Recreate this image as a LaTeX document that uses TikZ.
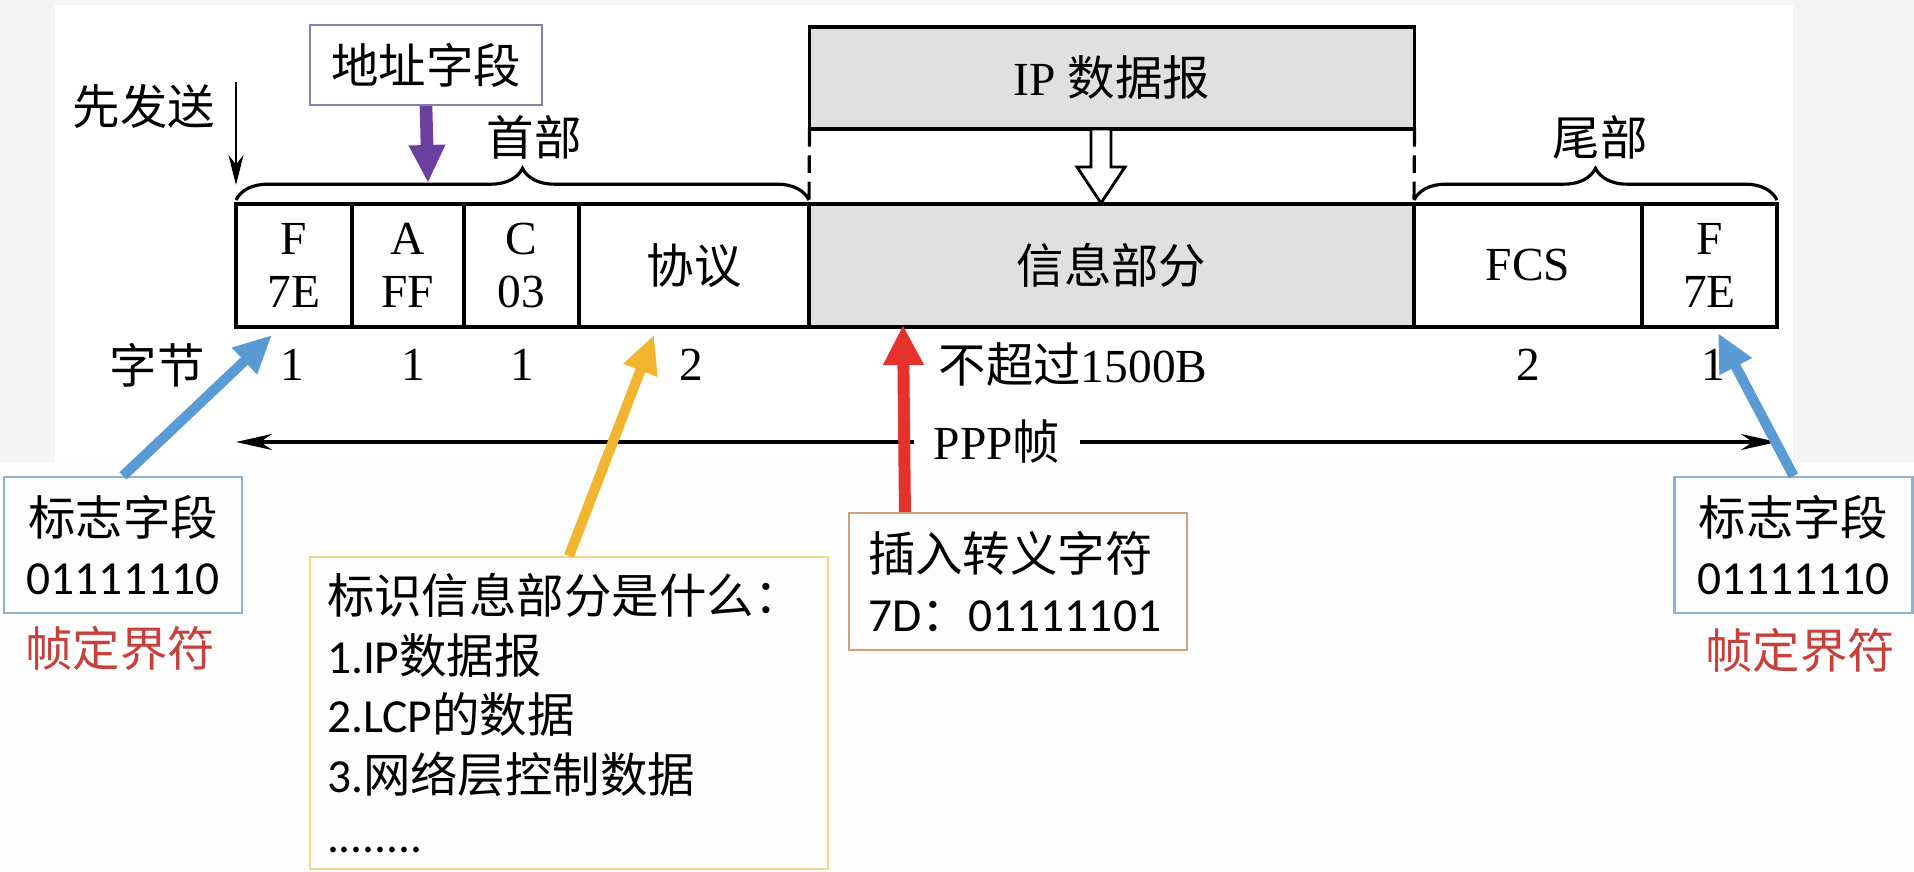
\documentclass[tikz,border=0pt]{standalone}
\usepackage{fontspec}
\setmainfont{Liberation Serif}
\newfontfamily\cjk{Noto Sans CJK SC}
\newfontfamily\calib{Carlito}
\newcommand{\zh}[1]{{\cjk #1}}
\usepackage{tikz}
\usetikzlibrary{arrows.meta, positioning, calc, decorations.pathreplacing}
\definecolor{pagegray}{HTML}{F4F4F4}
\definecolor{lowwhite}{HTML}{FDFDFD}
\definecolor{infogray}{HTML}{E0E0E0}
\definecolor{addrpurple}{HTML}{8A7BB0}
\definecolor{arrowpurple}{HTML}{6A3FA0}
\definecolor{flagblue}{HTML}{5B9BD5}
\definecolor{boxblue}{HTML}{8DB3D3}
\definecolor{noteyellow}{HTML}{F0D98C}
\definecolor{arrowyellow}{HTML}{F2B530}
\definecolor{escbrown}{HTML}{D2A27A}
\definecolor{arrowred}{HTML}{E5322D}
\definecolor{textred}{HTML}{C8403C}

\begin{document}
\begin{tikzpicture}[
    book/.style={inner sep=0pt, font=\fontsize{13.5}{15.2}\selectfont},
    cell/.style={book, draw, line width=0.9pt, minimum height=1.23cm, outer sep=0pt, align=center},
    note/.style={draw, line width=0.6pt, inner sep=0pt, font=\calib\fontsize{13.5}{17}\selectfont},
    fat/.style={line width=2.9pt, -{Triangle[length=3.8mm, width=3.4mm]}},
    brace/.style={line width=0.9pt, decorate, decoration={brace, amplitude=9pt}},
  ]
    % Background
    \fill[pagegray] (0,0) rectangle (19.14,8.72);
    \fill[white] (0.55,4.10) rectangle (17.93,8.67);
    \fill[lowwhite] (0,0) rectangle (19.14,4.10);
    \useasboundingbox (0,0) rectangle (19.14,8.72);

    % Frame cells
    \node[cell, minimum width=1.16cm] (fa) at (2.94,6.065) {F\\7E};
    \node[cell, minimum width=1.12cm] (fb) at (4.08,6.065) {A\\FF};
    \node[cell, minimum width=1.15cm] (fc) at (5.215,6.065) {C\\03};
    \node[cell, minimum width=2.30cm] (fd) at (6.94,6.065) {\zh{协议}};
    \node[cell, minimum width=6.05cm, fill=infogray] (fe) at (11.115,6.065) {\zh{信息部分}};
    \node[cell, minimum width=2.28cm] (ff) at (15.28,6.065) {FCS};
    \node[cell, minimum width=1.35cm] (fg) at (17.095,6.065) {F\\7E};

    % IP datagram above the information field
    \node[cell, fill=infogray, line width=1.1pt, minimum width=6.05cm, minimum height=1.02cm] (ip) at (11.12,7.94) {IP \zh{数据报}};
    \draw[line width=0.9pt, dash pattern=on 5pt off 2.5pt] (ip.south west) -- (fe.north west);
    \draw[line width=0.9pt, dash pattern=on 5pt off 2.5pt] (ip.south east) -- (fe.north east);
    \coordinate (hol) at (11.01,7.43);
    \draw[line width=0.8pt, fill=white] (hol) ++(-0.10,0) -- ++(0,-0.38) -- ++(-0.14,0)
        -- ++(0.24,-0.36) -- ++(0.24,0.36) -- ++(-0.14,0) -- ++(0,0.38) -- cycle;

    % Header and trailer braces
    \draw[brace] ($(fa.north west)+(0,0.04)$) -- ($(fd.north east)+(0,0.04)$);
    \draw[brace] ($(ff.north west)+(0,0.04)$) -- ($(fg.north east)+(0,0.04)$);
    \node[book] (head) at (5.34,7.35) {\zh{首部}};
    \node[book] (tail) at (16.0,7.35) {\zh{尾部}};

    % Sent first
    \node[book] (send) at (1.44,7.65) {\zh{先发送}};
    \coordinate (sendtop) at (2.36,7.90);
    \coordinate (sendtip) at (2.36,6.87);
    \draw[line width=0.8pt, -{Stealth[length=3mm, width=1.5mm]}] (sendtop) -- (sendtip);

    % Address field
    \node[note, draw=addrpurple, minimum width=2.32cm, minimum height=0.80cm] (addr) at (4.26,8.07) {\zh{地址字段}};
    \coordinate (addrtip) at (4.28,6.89);
    \draw[fat, arrowpurple, line width=3.6pt] (addr.south) -- (addrtip);

    % Byte counts
    \node[book] (bytes) at (1.57,5.07) {\zh{字节}};
    \node[book] (n1) at (2.92,5.07) {1};
    \node[book] (n2) at (4.13,5.07) {1};
    \node[book] (n3) at (5.22,5.07) {1};
    \node[book] (n4) at (6.91,5.07) {2};
    \node[book] (n5) at (10.73,5.07) {\zh{不超过}1500B};
    \node[book] (n6) at (15.28,5.07) {2};
    \node[book] (n7) at (17.13,5.07) {1};

    % Whole PPP frame
    \coordinate (pl) at (2.36,4.30);
    \coordinate (pr) at (17.77,4.30);
    \node[book, inner xsep=0.19cm] (ppp) at (9.97,4.30) {PPP\zh{帧}};
    \draw[line width=0.9pt, -{Stealth[length=3.6mm, width=1.6mm]}] (ppp.west) -- (pl);
    \draw[line width=0.9pt, -{Stealth[length=3.6mm, width=1.6mm]}] (ppp.east) -- (pr);

    % Flag fields
    \node[note, draw=boxblue, minimum width=2.38cm, minimum height=1.36cm, align=center] (flagl) at (1.23,3.27) {\zh{标志字段}\\01111110};
    \node[note, draw=boxblue, minimum width=2.38cm, minimum height=1.36cm, align=center] (flagr) at (17.935,3.27) {\zh{标志字段}\\01111110};
    \node[book, text=textred] (diml) at (1.20,2.24) {\zh{帧定界符}};
    \node[book, text=textred] (dimr) at (18.00,2.22) {\zh{帧定界符}};
    \coordinate (tipl) at (2.72,5.37);
    \coordinate (tipr) at (17.18,5.39);
    \draw[fat, flagblue] (flagl.north) -- (tipl);
    \draw[fat, flagblue] (flagr.north) -- (tipr);

    % Protocol field
    \node[note, draw=noteyellow, text width=4.84cm, minimum height=3.12cm, inner xsep=0.17cm, align=left] (proto) at (5.69,1.59)
        {\zh{标识信息部分是什么：}\\1.IP\zh{数据报}\\2.LCP\zh{的数据}\\3.\zh{网络层控制数据}\\........};
    \coordinate (tipy) at (6.54,5.37);
    \draw[fat, arrowyellow] (proto.north) -- (tipy);

    % Escape character
    \node[note, draw=escbrown, text width=3.00cm, minimum height=1.37cm, inner xsep=0.19cm, align=left] (esc) at (10.18,2.905)
        {\zh{插入转义字符}\\7D\zh{：}01111101};
    \coordinate (tipr2) at (9.03,5.47);
    \draw[fat, arrowred, line width=3.4pt, -{Triangle[length=4mm, width=3.8mm]}] ($(esc.north west)+(0.57,0)$) -- (tipr2);
\end{tikzpicture}
\end{document}
